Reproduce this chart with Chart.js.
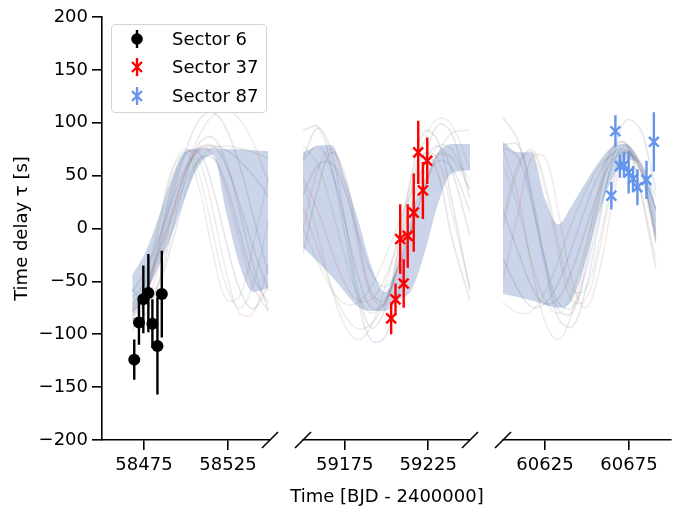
<!DOCTYPE html>
<html>
<head>
<meta charset="utf-8">
<script src="https://cdn.jsdelivr.net/npm/chart.js@4.4.1/dist/chart.umd.min.js"></script>
<style>
  html, body { margin: 0; padding: 0; background: #fff; }
  #fig { position: relative; width: 684px; height: 513px; font-family: "DejaVu Sans", sans-serif; color: #000; overflow: hidden; }
  #fig canvas { position: absolute; top: 0; }
  #legend { position: absolute; left: 111px; top: 24px; width: 156px; height: 89px; box-sizing: border-box;
            border: 1px solid #d4d4d4; border-radius: 4px; background: rgba(255,255,255,0.85); }
  .lg { position: absolute; left: 125px; height: 24px; display: flex; align-items: center; font-size: 18px; white-space: nowrap; }
  .lg span { margin-left: 23px; line-height: 24px; }
  #xtitle { position: absolute; left: 187px; width: 400px; top: 484px; text-align: center; font-size: 18px; line-height: 24px; }
</style>
</head>
<body>
<div id="fig">
  <canvas id="c1" width="283" height="513" style="left:0;width:283px;height:513px"></canvas>
  <canvas id="c2" width="200" height="513" style="left:283px;width:200px;height:513px"></canvas>
  <canvas id="c3" width="201" height="513" style="left:483px;width:201px;height:513px"></canvas>
  <div id="legend"></div>
  <div class="lg" style="top:27px">
    <svg width="24" height="24"><line x1="12" y1="3" x2="12" y2="21" stroke="#000" stroke-width="2.4"/><circle cx="12" cy="12" r="5.8" fill="#000"/></svg>
    <span>Sector 6</span>
  </div>
  <div class="lg" style="top:55px">
    <svg width="24" height="24"><line x1="12" y1="3" x2="12" y2="21" stroke="red" stroke-width="2.4"/><path d="M7 7 L17 17 M17 7 L7 17" stroke="red" stroke-width="2.3"/></svg>
    <span>Sector 37</span>
  </div>
  <div class="lg" style="top:84px">
    <svg width="24" height="24"><line x1="12" y1="3" x2="12" y2="21" stroke="#6495ED" stroke-width="2.4"/><path d="M7 7 L17 17 M17 7 L7 17" stroke="#6495ED" stroke-width="2.3"/></svg>
    <span>Sector 87</span>
  </div>
  <div id="xtitle">Time [BJD - 2400000]</div>
</div>
<script>
// measured timing delays (days, seconds, 1-sigma)
const s6Time = [58469.2, 58472.0, 58474.6, 58477.6, 58480.0, 58483.0, 58485.6];
const s6Delay = [-124, -89, -67, -61, -90, -111, -62];
const s6Err = [19, 21, 32, 37, 23, 46, 41];

const s37Time = [59202.8, 59205.4, 59208.2, 59210.3, 59212.7, 59216.3, 59219.0, 59221.8, 59224.4];
const s37Delay = [-85, -67, -10, -52, -7, 15, 72, 36, 64];
const s37Err = [15, 15, 33, 23, 30, 37, 30, 27, 22];

const s87Time = [60664.5, 60666.9, 60669.6, 60672.0, 60674.8, 60677.4, 60680.0, 60685.4, 60689.8];
const s87Delay = [31, 92, 59, 60, 53, 47, 39, 46, 82];
const s87Err = [13, 15, 11, 12, 20, 12, 17, 18, 28];

// axis ranges and ticks
const yTicks = [-200, -150, -100, -50, 0, 50, 100, 150, 200];
const p1Range = [58450, 58550];
const p2Range = [59150, 59250];
const p3Range = [60600, 60700];
const p1Ticks = [58475, 58525];
const p2Ticks = [59175, 59225];
const p3Ticks = [60625, 60675];

// model draws
const p1Grid = [58468, 58476, 58484, 58492, 58500, 58508, 58516, 58524, 58532, 58540, 58549];
const p1BandHi = [-44, -22, 12, 50, 73, 76, 76, 75, 75, 74, 73];
const p1BandLo = [-84, -62, -35, -4, 32, 60, 70, 15, -35, -60, -56];
const p1Curves = [
	[-76, -58, -13, 38, 71, 71, 38, -13, -58, -76, -54],
	[-77, -69, -35, 12, 55, 77, 69, 35, -12, -55, -78],
	[-74, -47, 7, 57, 75, 50, -4, -55, -75, -52, 7],
	[-79, -61, -26, 16, 53, 76, 78, 59, 23, -18, -59],
	[-97, -65, -19, 31, 74, 103, 110, 94, 59, 12, -43],
	[-88, -57, -20, 20, 57, 88, 107, 112, 103, 81, 44],
	[-71, -55, 0, 55, 71, 37, -23, -67, -64, -15, 49],
	[-86, -81, -49, 0, 49, 81, 86, 62, 16, -35, -77],
	[-57, -70, -52, -12, 34, 65, 67, 41, -3, -46, -70],
	[-85, -64, -12, 43, 74, 63, 17, -41, -80, -80, -34],
	[-66, -50, -22, 12, 44, 66, 76, 78, 76, 72, 66],
	[-60, -40, -8, 28, 58, 74, 78, 74, 64, 50, 30]
];

const p2Grid = [59150, 59159, 59167, 59175, 59183, 59191, 59199, 59207, 59215, 59223, 59231, 59239, 59250];
const p2BandHi = [72, 78, 79, 48, 8, -36, -60, -34, 12, 48, 72, 80, 80];
const p2BandLo = [-18, -32, -45, -60, -74, -78, -78, -68, -58, -22, 24, 52, 55];
const p2Curves = [
	[64, 78, 55, 7, -45, -75, -71, -33, 20, 64, 78, 55, -7],
	[0, 56, 75, 44, -16, -65, -71, -31, 31, 71, 65, 16, -56],
	[79, 60, 20, -26, -64, -80, -69, -34, 12, 54, 78, 75, 37],
	[66, 95, 72, 9, -59, -94, -77, -18, 51, 92, 82, 27, -59],
	[93, 96, 58, -5, -68, -106, -103, -61, 3, 65, 98, 90, 28],
	[48, 16, -20, -52, -68, -67, -47, -14, 23, 53, 69, 66, 37],
	[0, -32, -57, -71, -70, -54, -28, 4, 35, 59, 71, 68, 46],
	[-24, 38, 72, 51, -8, -61, -68, -24, 38, 72, 51, -8, -68],
	[31, 60, 62, 36, -6, -42, -55, -38, 0, 40, 64, 58, 16],
	[20, -20, -56, -82, -95, -90, -71, -39, 0, 39, 71, 90, 93],
	[45, -7, -56, -92, -105, -92, -56, -7, 45, 85, 104, 98, 56]
];

const p3Grid = [60600, 60609, 60617, 60625, 60633, 60641, 60649, 60657, 60665, 60673, 60681, 60687, 60691];
const p3BandHi = [82, 72, 72, 28, 4, 22, 43, 63, 77, 80, 66, 45, 20];
const p3BandLo = [-62, -65, -68, -72, -75, -68, -32, 14, 47, 65, 62, 18, -15];
const p3Curves = [
	[77, 67, 24, -30, -70, -75, -43, 10, 59, 78, 59, 24, -4],
	[8, 61, 73, 38, -23, -68, -68, -23, 38, 73, 61, 23, -8],
	[61, 19, -31, -68, -80, -61, -19, 31, 68, 80, 61, 31, 6],
	[79, 79, 34, -30, -77, -80, -37, 26, 75, 81, 41, -6, -37],
	[105, 83, 28, -37, -85, -93, -59, 3, 65, 102, 96, 65, 36],
	[76, 30, -35, -88, -105, -80, -25, 38, 78, 80, 42, 0, -28],
	[1, 56, 75, 44, -14, -58, -58, -14, 44, 75, 56, 16, -14],
	[17, -22, -55, -71, -66, -40, -2, 36, 64, 72, 58, 36, 17],
	[-28, -58, -74, -71, -51, -18, 19, 51, 71, 74, 58, 36, 19],
	[-49, 15, 67, 67, 15, -49, -75, -42, 23, 71, 63, 23, -10],
	[-70, -80, -78, -60, -30, 5, 35, 58, 70, 72, 62, 45, 30]
];

const curveColors = ['rgba(60,90,150,0.14)', 'rgba(180,70,70,0.12)', 'rgba(70,140,90,0.12)', 'rgba(90,90,105,0.15)'];
const bandColor = 'rgba(140,160,205,0.45)';

Chart.defaults.font.family = '"DejaVu Sans", sans-serif';
Chart.defaults.font.size = 18;
Chart.defaults.color = '#000';

function pts(xs, ys) {
	return xs.map((x, i) => ({ x: x, y: ys[i] }));
}

function errorSegments(xs, ys, es) {
	const out = [];
	xs.forEach((x, i) => {
		out.push({ x: x, y: ys[i] - es[i] }, { x: x, y: ys[i] + es[i] }, { x: x, y: null });
	});
	return out;
}

function minusSign(v) {
	return v < 0 ? '\u2212' + Math.abs(v) : String(v);
}

// little diagonal marks where the x axis is cut
const breakMarks = {
	id: 'breakMarks',
	afterDraw(chart, args, opts) {
		const { ctx, chartArea } = chart;
		ctx.save();
		ctx.strokeStyle = '#000';
		ctx.lineWidth = 1.6;
		(opts.sides || []).forEach(side => {
			const x = side === 'left' ? chartArea.left : chartArea.right;
			ctx.beginPath();
			ctx.moveTo(x - 8, chartArea.bottom + 8);
			ctx.lineTo(x + 8, chartArea.bottom - 8);
			ctx.stroke();
		});
		ctx.restore();
	}
};

function buildDatasets(p) {
	const ds = [];
	ds.push({
		data: pts(p.time, p.delay),
		showLine: false,
		pointStyle: p.style,
		pointRadius: p.radius,
		pointBackgroundColor: p.color,
		pointBorderColor: p.color,
		pointBorderWidth: p.style === 'circle' ? 0 : 2.4,
		order: 0
	});
	ds.push({
		data: errorSegments(p.time, p.delay, p.err),
		borderColor: p.color,
		borderWidth: 2.4,
		pointRadius: 0,
		tension: 0,
		spanGaps: false,
		order: 1
	});
	p.curves.forEach((c, k) => {
		ds.push({
			data: pts(p.grid, c),
			borderColor: curveColors[k % curveColors.length],
			borderWidth: 1.6,
			pointRadius: 0,
			tension: 0.4,
			order: 5
		});
	});
	ds.push({
		data: pts(p.grid, p.bandLo),
		borderColor: 'rgba(0,0,0,0)',
		pointRadius: 0,
		cubicInterpolationMode: 'monotone',
		order: 10
	});
	ds.push({
		data: pts(p.grid, p.bandHi),
		borderColor: 'rgba(0,0,0,0)',
		backgroundColor: bandColor,
		fill: '-1',
		pointRadius: 0,
		cubicInterpolationMode: 'monotone',
		order: 10
	});
	return ds;
}

function panel(id, p) {
	return new Chart(document.getElementById(id), {
		type: 'line',
		data: { datasets: buildDatasets(p) },
		options: {
			responsive: false,
			animation: false,
			events: [],
			layout: { padding: { left: p.padLeft, right: p.padRight, top: 17, bottom: 0 } },
			plugins: {
				legend: { display: false },
				tooltip: { enabled: false },
				breakMarks: { sides: p.breaks }
			},
			scales: {
				x: {
					type: 'linear',
					min: p.range[0],
					max: p.range[1],
					afterBuildTicks: s => { s.ticks = p.ticks.map(v => ({ value: v })); },
					afterFit: s => { s.height = 73; },
					ticks: { padding: 5, maxRotation: 0, callback: v => String(v) },
					grid: { drawOnChartArea: false, drawTicks: true, tickLength: 10, color: '#000', lineWidth: 1.6 },
					border: { display: true, color: '#000', width: 1.6 }
				},
				y: {
					display: p.showY,
					min: -200,
					max: 200,
					afterBuildTicks: s => { s.ticks = yTicks.map(v => ({ value: v })); },
					afterFit: s => { s.width = p.showY ? 102 : 0; },
					ticks: { padding: 4, callback: v => minusSign(v) },
					grid: { drawOnChartArea: false, drawTicks: true, tickLength: 10, color: '#000', lineWidth: 1.6 },
					border: { display: true, color: '#000', width: 1.6 },
					title: { display: true, text: 'Time delay \u03c4 [s]', padding: { top: 12, bottom: 0 } }
				}
			}
		},
		plugins: [breakMarks]
	});
}

panel('c1', {
	time: s6Time, delay: s6Delay, err: s6Err, color: '#000', style: 'circle', radius: 6,
	grid: p1Grid, curves: p1Curves, bandHi: p1BandHi, bandLo: p1BandLo,
	range: p1Range, ticks: p1Ticks, showY: true, padLeft: 0, padRight: 13, breaks: ['right']
});
panel('c2', {
	time: s37Time, delay: s37Delay, err: s37Err, color: 'red', style: 'crossRot', radius: 7,
	grid: p2Grid, curves: p2Curves, bandHi: p2BandHi, bandLo: p2BandLo,
	range: p2Range, ticks: p2Ticks, showY: false, padLeft: 20, padRight: 13, breaks: ['left', 'right']
});
panel('c3', {
	time: s87Time, delay: s87Delay, err: s87Err, color: '#6495ED', style: 'crossRot', radius: 7,
	grid: p3Grid, curves: p3Curves, bandHi: p3BandHi, bandLo: p3BandLo,
	range: p3Range, ticks: p3Ticks, showY: false, padLeft: 20, padRight: 13, breaks: ['left']
});
</script>
</body>
</html>
